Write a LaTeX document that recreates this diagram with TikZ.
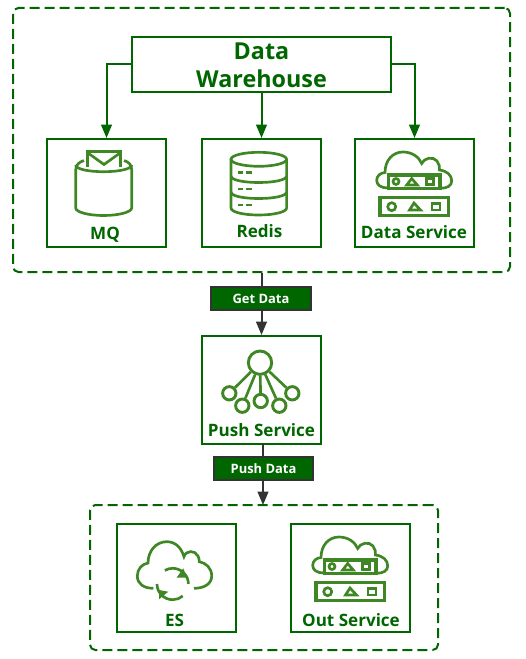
\documentclass[tikz,border=0pt]{standalone}
\usepackage{fontspec}
\setmainfont{Open Sans}
\usetikzlibrary{arrows.meta}

\definecolor{boxgreen}{RGB}{0,102,0}
\definecolor{icongreen}{RGB}{63,134,36}
\definecolor{tagedge}{RGB}{51,51,51}

\tikzset{every picture/.style={line width=1.5pt}}
\tikzset{
  groupbox/.style={draw=boxgreen,dash pattern=on 7.5pt off 3.75pt,rounded corners=4pt,inner sep=0pt},
  itembox/.style={draw=boxgreen,inner sep=0pt,minimum width=89.25pt,minimum height=81pt},
  itemtext/.style={text=boxgreen,font=\fontsize{12.8}{15}\selectfont\bfseries,inner sep=0pt},
  tagbox/.style={draw=tagedge,fill=boxgreen,text=white,font=\fontsize{9.7}{11}\selectfont\bfseries,inner sep=0pt,minimum height=17.25pt},
  flow/.style={draw=boxgreen,-{Triangle[length=10pt,width=8pt]}},
  tagflow/.style={draw=tagedge,-{Triangle[length=10pt,width=8pt]}},
  icon/.style={draw=icongreen,line width=2pt},
  rack/.style={draw=icongreen,line width=2.6pt},
  leaf/.style={circle,draw=icongreen,line width=2.2pt,inner sep=0pt,minimum size=10pt},
  server cloud/.pic={
    %cloud
    \draw [icon] (388,188) .. controls (381,188) and (376.7,185) .. (376.7,180.5) .. controls (376.7,176) and (380,173) .. (385,172.5) .. controls (385,160) and (393,152) .. (403,152) .. controls (412,152) and (419,157) .. (421.7,163.5) .. controls (424,158) and (433,156) .. (437,161) .. controls (439,164) and (440,167) .. (439.5,170) .. controls (447,171) and (451.7,175) .. (451.7,181) .. controls (451.7,186) and (447,188.3) .. (440,188.3) ;
    %top rack
    \draw [rack] (388.3,175) rectangle (440,188.3) ;
    \draw [icon] (396,181.5) circle [radius=3] ;
    \draw [icon] (406.7,185) -- (411.7,178.5) -- (417.3,185) -- cycle ;
    \draw [icon] (426.7,178.5) rectangle (433.5,184.5) ;
    %bottom rack
    \draw [rack] (380,197.7) rectangle (448.3,215.7) ;
    \draw [icon] (391.7,206.7) circle [radius=4] ;
    \draw [icon] (409.5,210) -- (414,203) -- (420.5,210) -- cycle ;
    \draw [icon] (432,203.3) rectangle (440,210) ;
  }
}

\begin{document}
\begin{tikzpicture}[x=0.75pt,y=0.75pt,yscale=-1,xscale=1]
\useasboundingbox (0,0) rectangle (525,659);

%Groups
\node [groupbox,minimum width=372.75pt,minimum height=198pt] (upper) at (261.5,140) {};
\node [groupbox,minimum width=261pt,minimum height=108.75pt] (lower) at (264,577.5) {};

%Boxes
\node [draw=boxgreen,inner sep=0pt,minimum width=194.25pt,minimum height=41.25pt] (warehouse) at (261.5,64.5) {};
\node [itembox] (mq) at (106.5,193) {};
\node [itembox] (redis) at (261.5,193) {};
\node [itembox] (dataservice) at (414.5,193) {};
\node [itembox] (push) at (261.5,390) {};
\node [itembox] (es) at (176.5,578) {};
\node [itembox] (outservice) at (350.5,578) {};

%Connectors
\draw [flow] (warehouse.west) -| (mq.north) ;
\draw [flow] (warehouse.south) -- (redis.north) ;
\draw [flow] (warehouse.east) -| (dataservice.north) ;
\draw [tagflow] (upper.south) -- (push.north) ;
\coordinate (pushout) at (263,444) ;
\coordinate (lowerin) at (263,505) ;
\draw [tagflow] (pushout) -- (lowerin) ;

%Tags
\node [tagbox,minimum width=75pt] (getdata) at (261,298.5) {Get Data};
\node [tagbox,minimum width=74.25pt] (pushdata) at (263.5,468.5) {Push Data};

% Text Node
\node [align=center,inner sep=0pt,text=boxgreen,font=\fontsize{17.5}{21}\selectfont\bfseries] (warehousetext) at (261.5,65.5) {Data\\Warehouse};
\node [itemtext] (mqtext) at (105,234.5) {MQ};
\node [itemtext] (redistext) at (259.5,231) {Redis};
\node [itemtext] (dstext) at (414,232.5) {Data Service};
\node [itemtext] (pushtext) at (261.5,430) {Push Service};
\node [itemtext] (estext) at (174.5,620.5) {ES};
\node [itemtext] (ostext) at (351,620.5) {Out Service};

%MQ icon
\draw [icon] (75.7,170) -- (75.7,208) .. controls (75.7,212) and (88,215.5) .. (103.7,215.5) .. controls (119,215.5) and (131.7,212) .. (131.7,208) -- (131.7,170) ;
\draw [icon] (84,160.5) .. controls (79,162) and (75.7,165) .. (75.7,170) ;
\draw [icon] (124,160.5) .. controls (129,162) and (131.7,165) .. (131.7,170) ;
\draw [icon] (75.7,165) .. controls (75.7,169) and (88,171.7) .. (103.7,171.7) .. controls (119,171.7) and (131.7,169) .. (131.7,165) ;
\draw [icon] (87.3,167) -- (87.3,151.7) -- (120.7,151.7) -- (120.7,167) ;
\draw [icon] (87.3,152.5) -- (104,164.5) -- (120.7,152.5) ;

%Redis icon
\draw [icon] (258.8,159.3) ellipse [x radius=27.8,y radius=7] ;
\draw [icon] (231,159.3) -- (231,208) .. controls (231,212) and (243,215) .. (258.8,215) .. controls (274,215) and (286.6,212) .. (286.6,208) -- (286.6,159.3) ;
\draw [icon] (231,176) .. controls (231,180) and (243,182.5) .. (258.8,182.5) .. controls (274,182.5) and (286.6,180) .. (286.6,176) ;
\draw [icon] (231,192) .. controls (231,196) and (243,198.5) .. (258.8,198.5) .. controls (274,198.5) and (286.6,196) .. (286.6,192) ;
\foreach \dashy in {172.3,189,205} {
  \draw [icon] (238.3,\dashy) -- (243.3,\dashy) (245.7,\dashy) -- (252.3,\dashy) ;
}

%Data Service and Out Service icons
\pic [transform shape] at (0,0) {server cloud};
\pic [transform shape] at (-64,385) {server cloud};

%Push Service icon
\node [leaf,minimum size=17.5pt] (hub) at (260,362.7) {};
\node [leaf] (leafa) at (229.3,393.3) {};
\node [leaf] (leafb) at (242.3,405.7) {};
\node [leaf] (leafc) at (260.7,401) {};
\node [leaf] (leafd) at (279.3,405.7) {};
\node [leaf] (leafe) at (292.3,393.3) {};
\foreach \leafname in {leafa,leafb,leafc,leafd,leafe} {
  \draw [icon] (hub) -- (\leafname) ;
}

%ES icon
\draw [icon] (153.3,588.3) .. controls (144,588.3) and (137.3,584) .. (137.3,576) .. controls (137.3,569) and (142,564) .. (148,563) .. controls (148,551) and (156,541.7) .. (166.7,541.7) .. controls (175,541.7) and (181,547) .. (184,556.7) .. controls (186,550) and (195,550) .. (198,556) .. controls (199,558) and (199.3,560) .. (199.3,561.7) .. controls (206,563) and (211.7,568) .. (211.7,576) .. controls (211.7,584) and (204,588.3) .. (194,588.3) ;
\draw [icon] (157,584) arc [start angle=180,end angle=50,radius=15.7] ;
\draw [icon] (188.4,584) arc [start angle=0,end angle=-120,radius=15.7] ;
\fill [icongreen] (183.3,568.3) -- (186.7,577.5) -- (176.7,577.5) -- cycle ;
\fill [icongreen] (159,590) -- (168.3,591.7) -- (159,599.3) -- cycle ;

\end{tikzpicture}
\end{document}
